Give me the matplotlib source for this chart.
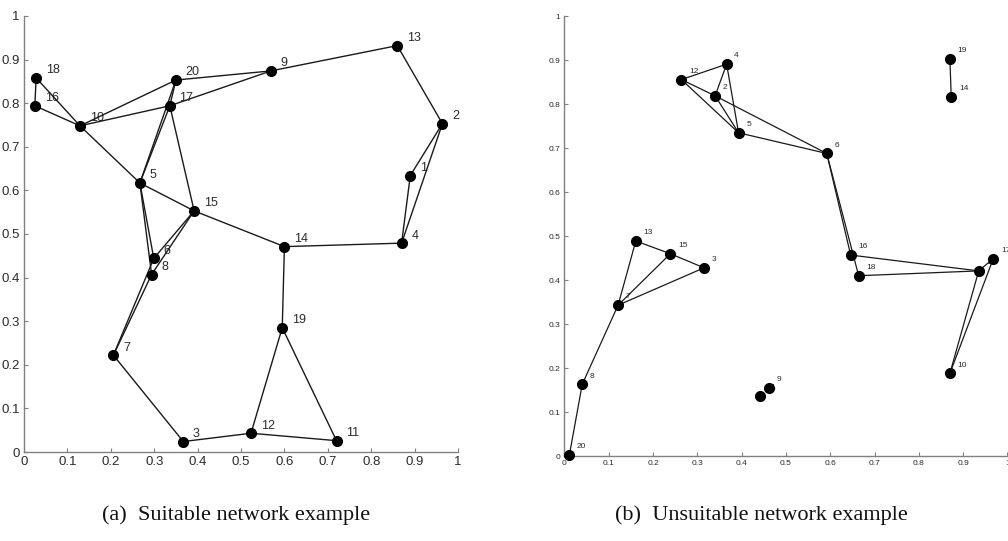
import matplotlib
matplotlib.use("Agg")
import matplotlib.pyplot as plt

# ---------------- data ----------------
# (a) suitable network
a_ids = list(range(1, 21))
a_x = [0.890, 0.964, 0.367, 0.870, 0.267, 0.299, 0.206, 0.294, 0.569, 0.129,
       0.720, 0.523, 0.860, 0.600, 0.392, 0.025, 0.336, 0.028, 0.595, 0.350]
a_y = [0.634, 0.753, 0.024, 0.479, 0.617, 0.444, 0.222, 0.407, 0.874, 0.748,
       0.026, 0.043, 0.932, 0.471, 0.553, 0.794, 0.794, 0.858, 0.285, 0.853]
a_edges = [(18, 16), (18, 10), (16, 10), (10, 20), (10, 17), (10, 5),
           (20, 17), (20, 9), (17, 9), (9, 13), (13, 2), (2, 1), (2, 4),
           (1, 4), (4, 14), (14, 15), (14, 19), (19, 12), (19, 11), (12, 11),
           (12, 3), (3, 7), (7, 8), (7, 6), (5, 15), (5, 17), (5, 20),
           (17, 15), (5, 8), (5, 6), (15, 6), (15, 8)]

# (b) unsuitable network
b_ids = list(range(1, 21))
b_x = [0.935, 0.340, 0.315, 0.366, 0.393, 0.592, 0.121, 0.040, 0.461, 0.870,
       0.441, 0.264, 0.161, 0.873, 0.239, 0.646, 0.968, 0.664, 0.870, 0.011]
b_y = [0.421, 0.819, 0.428, 0.891, 0.735, 0.688, 0.343, 0.163, 0.155, 0.188,
       0.137, 0.856, 0.489, 0.816, 0.460, 0.457, 0.449, 0.410, 0.903, 0.002]
b_edges = [(12, 4), (12, 2), (12, 5), (4, 2), (4, 5), (2, 5), (2, 6), (5, 6),
           (6, 16), (6, 18), (16, 1), (18, 1), (1, 10), (17, 10), (1, 17),
           (19, 14), (13, 7), (13, 15), (15, 3), (15, 7), (3, 7), (7, 8),
           (8, 20)]

ticks = [0, 0.1, 0.2, 0.3, 0.4, 0.5, 0.6, 0.7, 0.8, 0.9, 1]
tick_labels = ["0", "0.1", "0.2", "0.3", "0.4", "0.5", "0.6", "0.7", "0.8", "0.9", "1"]
captions = ["(a)  Suitable network example", "(b)  Unsuitable network example"]

# ---------------- figure ----------------
fig = plt.figure(figsize=(10.08, 5.41), dpi=100)
ax_a = fig.add_axes([0.0238, 0.1645, 0.4306, 0.806])
ax_b = fig.add_axes([0.5600, 0.1570, 0.4395, 0.813])

spine_col = "#808080"
text_col = "#2b2b2b"


def draw(ax, ids, xs, ys, edges, ms, lw, fs_tick, fs_lab, off):
    pos = {i: (x, y) for i, x, y in zip(ids, xs, ys)}
    for u, v in edges:
        ax.plot([pos[u][0], pos[v][0]], [pos[u][1], pos[v][1]],
                color="#1a1a1a", lw=lw, zorder=2, solid_capstyle="round")
    for i in ids:
        ax.annotate(str(i), pos[i], xytext=off, textcoords="offset points",
                    fontsize=fs_lab, color=text_col, ha="left", va="center",
                    family="Liberation Sans", zorder=1, annotation_clip=False)
    ax.plot(xs, ys, "o", color="black", ms=ms, zorder=3, clip_on=False)
    ax.set_xlim(0, 1)
    ax.set_ylim(0, 1)
    ax.set_xticks(ticks)
    ax.set_yticks(ticks)
    ax.set_xticklabels(tick_labels, family="Liberation Sans")
    ax.set_yticklabels(tick_labels, family="Liberation Sans")
    for s in ["top", "right"]:
        ax.spines[s].set_visible(False)
    for s in ["left", "bottom"]:
        ax.spines[s].set_color(spine_col)
        ax.spines[s].set_linewidth(1.0)
    ax.tick_params(direction="in", length=3, width=0.8, color=spine_col,
                   labelcolor=text_col, labelsize=fs_tick, pad=3)
    ax.patch.set_alpha(0)


draw(ax_a, a_ids, a_x, a_y, a_edges, ms=7, lw=1.0, fs_tick=9.5, fs_lab=9,
     off=(7, 5.5))
draw(ax_b, b_ids, b_x, b_y, b_edges, ms=7, lw=0.9, fs_tick=6, fs_lab=6,
     off=(5.5, 6))

fig.text(236 / 1008, 1 - 515 / 541, captions[0], ha="center", va="center",
         family="Liberation Serif", fontsize=16, color="#111111")
fig.text(761 / 1008, 1 - 515 / 541, captions[1], ha="center", va="center",
         family="Liberation Serif", fontsize=16, color="#111111")

fig.savefig("out.png", dpi=100)
